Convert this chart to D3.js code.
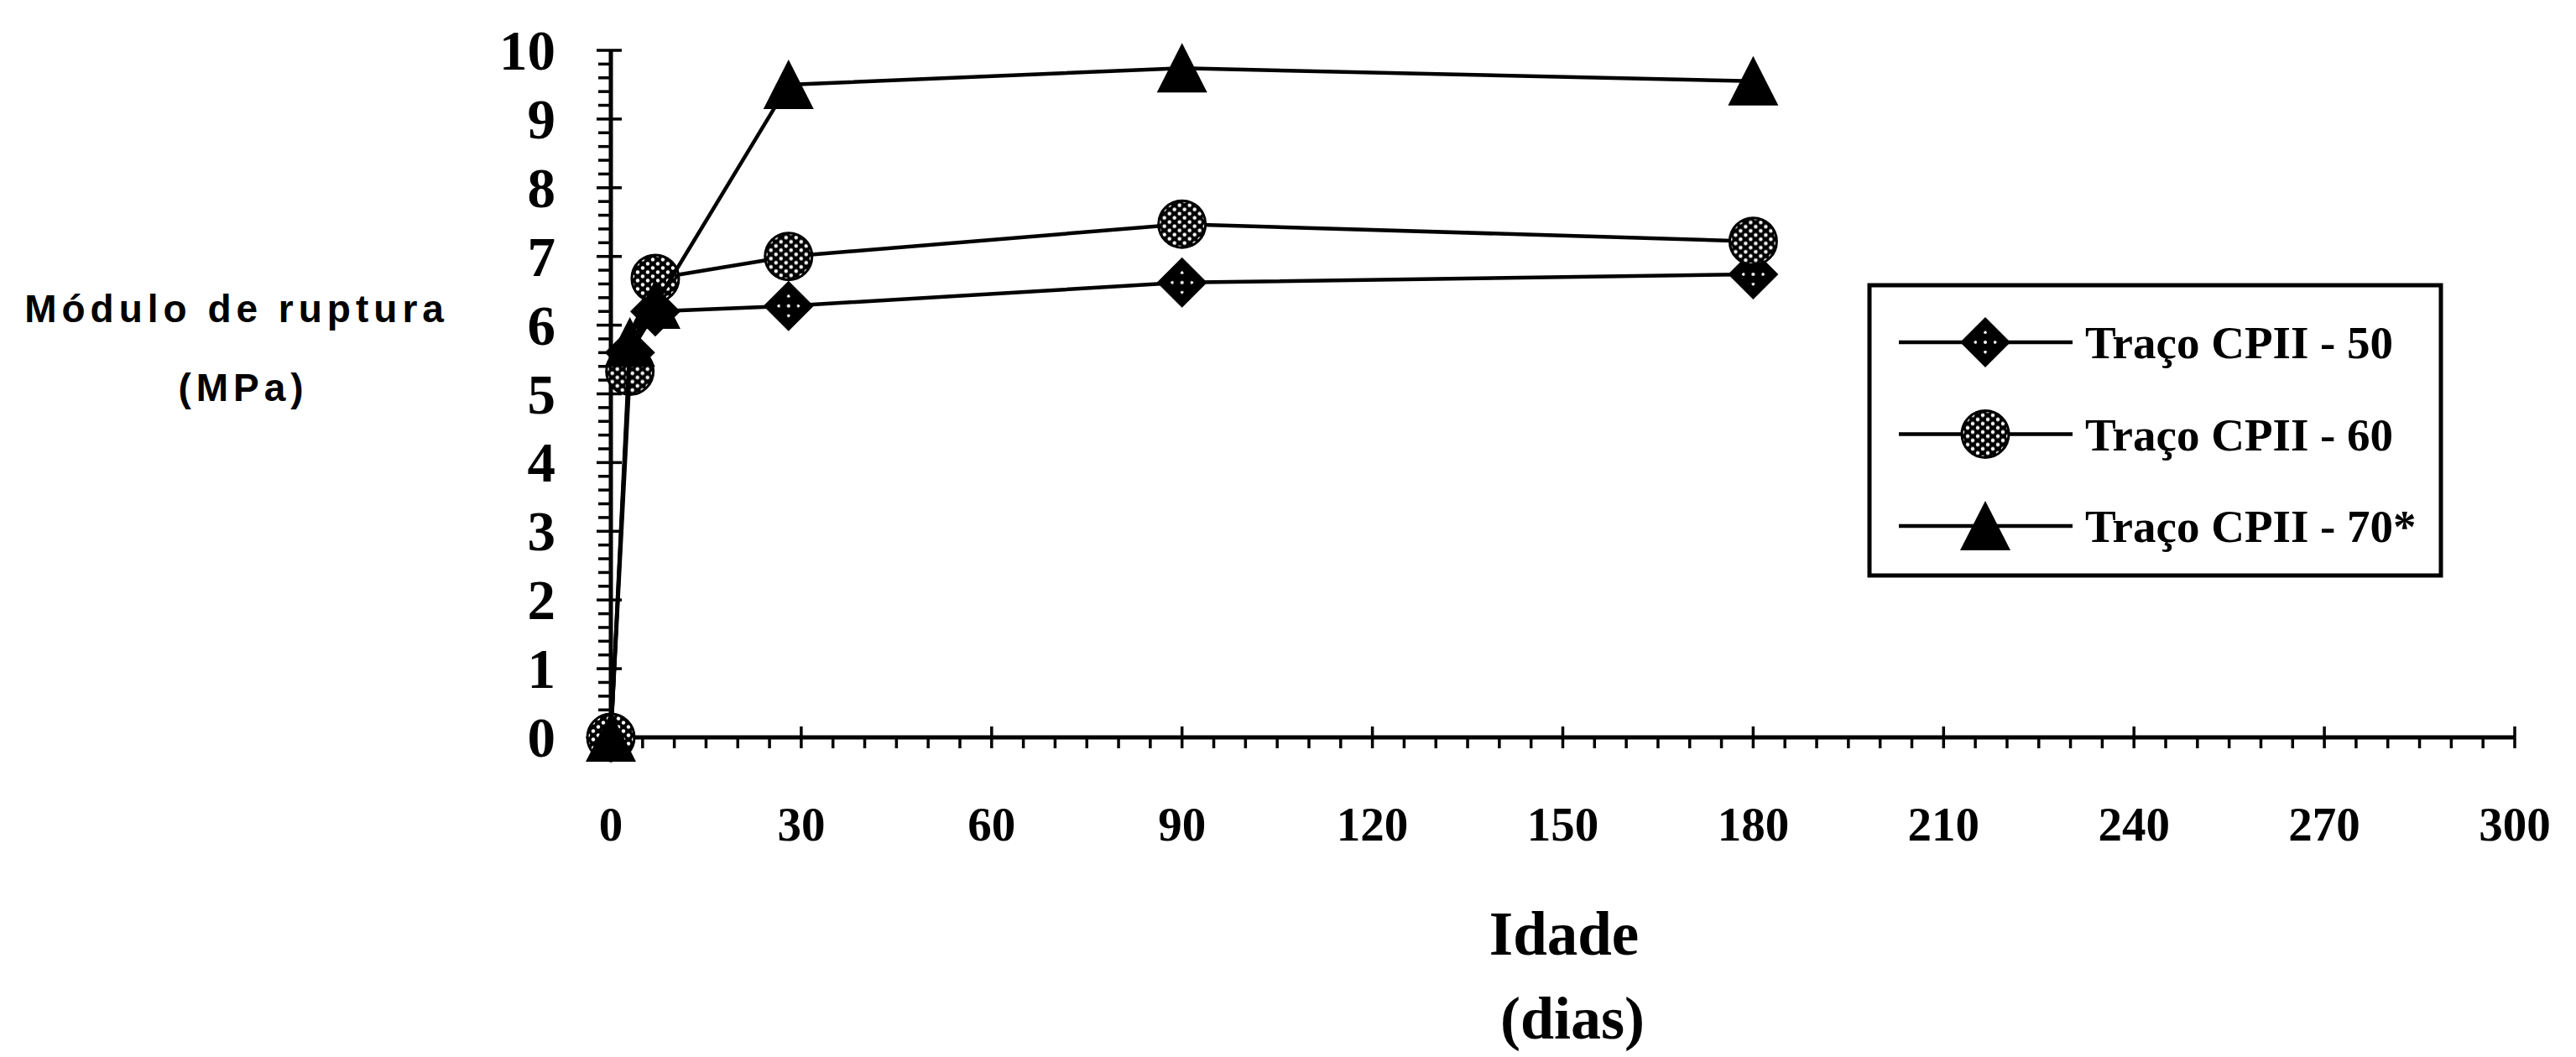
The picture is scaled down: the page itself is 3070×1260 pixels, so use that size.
<!DOCTYPE html>
<html>
<head>
<meta charset="utf-8">
<script src="https://cdn.jsdelivr.net/npm/d3@7"></script>
<style>
  html, body { margin: 0; padding: 0; background: #ffffff; }
  svg { display: block; }
</style>
</head>
<body>
<svg id="chart" width="3070" height="1260"></svg>
<script>
// Flexural strength (módulo de ruptura) vs. age for three CPII mixes
const days = [0, 3, 7, 28, 90, 180];
const tracoCPII50 = [0, 5.6, 6.2, 6.28, 6.62, 6.74];
const tracoCPII60 = [0, 5.33, 6.68, 7.0, 7.47, 7.22];
const tracoCPII70 = [0, 5.75, 6.3, 9.5, 9.74, 9.55];
const seriesNames = ["Traço CPII - 50", "Traço CPII - 60", "Traço CPII - 70*"];
const xTicks = [0, 30, 60, 90, 120, 150, 180, 210, 240, 270, 300];
const yTicks = [0, 1, 2, 3, 4, 5, 6, 7, 8, 9, 10];

const svg = d3.select("#chart");
const serif = "'Liberation Serif', 'Times New Roman', serif";
const sans = "'Liberation Sans', Arial, sans-serif";

const x = d3.scaleLinear().domain([0, 300]).range([728, 2997]);
const y = d3.scaleLinear().domain([0, 10]).range([879, 60]);

// marker fills: black with white dots
const defs = svg.append("defs");
const dense = defs.append("pattern").attr("id", "dotsDense")
  .attr("patternUnits", "userSpaceOnUse").attr("width", 12).attr("height", 10)
  .attr("x", -6).attr("y", -5);
dense.append("rect").attr("width", 12).attr("height", 10).attr("fill", "#000");
dense.append("circle").attr("cx", 3).attr("cy", 2.5).attr("r", 2.2).attr("fill", "#fff");
dense.append("circle").attr("cx", 9).attr("cy", 7.5).attr("r", 2.2).attr("fill", "#fff");

const sparse = defs.append("pattern").attr("id", "dotsSparse")
  .attr("patternUnits", "userSpaceOnUse").attr("width", 12).attr("height", 12)
  .attr("x", -6).attr("y", -6);
sparse.append("rect").attr("width", 12).attr("height", 12).attr("fill", "#000");
sparse.append("circle").attr("cx", 6).attr("cy", 6).attr("r", 2).attr("fill", "#fff");

const diamondPath = "M0,-30 L30,0 L0,30 L-30,0 Z";
const trianglePath = "M0,-30 L30,29 L-30,29 Z";

function drawMarker(g, kind) {
  if (kind === "diamond") {
    g.append("path").attr("d", diamondPath).attr("fill", "#000");
    g.append("path").attr("d", "M0,-14 L14,0 L0,14 L-14,0 Z").attr("fill", "url(#dotsSparse)");
  } else if (kind === "circle") {
    g.append("circle").attr("r", 28).attr("fill", "url(#dotsDense)")
      .attr("stroke", "#000").attr("stroke-width", 3);
  } else {
    g.append("path").attr("d", trianglePath).attr("fill", "#000");
  }
}

// ---- axes ----
const axes = svg.append("g");
// x axis line
axes.append("line").attr("x1", x(0)).attr("x2", x(300))
  .attr("y1", y(0)).attr("y2", y(0))
  .attr("stroke", "#000").attr("stroke-width", 5);
// y axis line
axes.append("line").attr("x1", x(0)).attr("x2", x(0))
  .attr("y1", y(0)).attr("y2", y(10))
  .attr("stroke", "#000").attr("stroke-width", 5);

// x minor ticks every 5 days (outside, below)
const xMinor = d3.range(0, 301, 5).filter(d => d % 30 !== 0);
axes.selectAll(".xminor").data(xMinor).join("line")
  .attr("x1", d => x(d)).attr("x2", d => x(d))
  .attr("y1", y(0)).attr("y2", y(0) + 13)
  .attr("stroke", "#000").attr("stroke-width", 3.5);
// x major ticks cross the axis
axes.selectAll(".xmajor").data(xTicks.filter(d => d > 0)).join("line")
  .attr("x1", d => x(d)).attr("x2", d => x(d))
  .attr("y1", y(0) - 13).attr("y2", y(0) + 13)
  .attr("stroke", "#000").attr("stroke-width", 3.5);
axes.selectAll(".xlabel").data(xTicks).join("text")
  .attr("x", d => x(d)).attr("y", 1002)
  .attr("text-anchor", "middle")
  .attr("font-family", serif).attr("font-weight", "bold").attr("font-size", 57)
  .text(d => d);

// y minor ticks every 0.2 (outside, left)
const yMinor = d3.range(0, 50).map(i => i / 5).filter(d => Math.abs(d - Math.round(d)) > 1e-6);
axes.selectAll(".yminor").data(yMinor).join("line")
  .attr("x1", x(0) - 15).attr("x2", x(0))
  .attr("y1", d => y(d)).attr("y2", d => y(d))
  .attr("stroke", "#000").attr("stroke-width", 3.5);
axes.selectAll(".ymajor").data(yTicks.filter(d => d > 0)).join("line")
  .attr("x1", x(0) - 17).attr("x2", x(0) + 13)
  .attr("y1", d => y(d)).attr("y2", d => y(d))
  .attr("stroke", "#000").attr("stroke-width", 3.5);
axes.selectAll(".ylabel").data(yTicks).join("text")
  .attr("x", 662).attr("y", d => y(d) + 23)
  .attr("text-anchor", "end")
  .attr("font-family", serif).attr("font-weight", "bold").attr("font-size", 67)
  .text(d => d);

// ---- axis titles ----
svg.append("text").attr("x", 282).attr("y", 384).attr("text-anchor", "middle")
  .attr("font-family", sans).attr("font-weight", "bold").attr("font-size", 46)
  .attr("letter-spacing", 6).text("Módulo de ruptura");
svg.append("text").attr("x", 290).attr("y", 478).attr("text-anchor", "middle")
  .attr("font-family", sans).attr("font-weight", "bold").attr("font-size", 46)
  .attr("letter-spacing", 6).text("(MPa)");
svg.append("text").attr("x", 1864).attr("y", 1138).attr("text-anchor", "middle")
  .attr("font-family", serif).attr("font-weight", "bold").attr("font-size", 73)
  .text("Idade");
svg.append("text").attr("x", 1874).attr("y", 1238).attr("text-anchor", "middle")
  .attr("font-family", serif).attr("font-weight", "bold").attr("font-size", 72)
  .text("(dias)");

// ---- series ----
const series = [
  { name: seriesNames[0], values: tracoCPII50, marker: "diamond" },
  { name: seriesNames[1], values: tracoCPII60, marker: "circle" },
  { name: seriesNames[2], values: tracoCPII70, marker: "triangle" }
];
const line = d3.line().x(d => x(d[0])).y(d => y(d[1]));

series.forEach(s => {
  const pts = days.map((d, i) => [d, s.values[i]]);
  const g = svg.append("g");
  g.append("path").attr("d", line(pts)).attr("fill", "none")
    .attr("stroke", "#000").attr("stroke-width", 4.5);
  pts.forEach(p => {
    const m = g.append("g").attr("transform", `translate(${x(p[0])},${y(p[1])})`);
    drawMarker(m, s.marker);
  });
});

// ---- legend ----
const lg = svg.append("g");
lg.append("rect").attr("x", 2228).attr("y", 340).attr("width", 681).attr("height", 346)
  .attr("fill", "#fff").attr("stroke", "#000").attr("stroke-width", 5);
series.forEach((s, i) => {
  const cy = 408 + i * 109.5;
  lg.append("line").attr("x1", 2263).attr("x2", 2470).attr("y1", cy).attr("y2", cy)
    .attr("stroke", "#000").attr("stroke-width", 4.5);
  drawMarker(lg.append("g").attr("transform", `translate(2366,${cy})`), s.marker);
  lg.append("text").attr("x", 2485).attr("y", cy + 19)
    .attr("font-family", serif).attr("font-weight", "bold").attr("font-size", 55)
    .text(s.name);
});
</script>
</body>
</html>
